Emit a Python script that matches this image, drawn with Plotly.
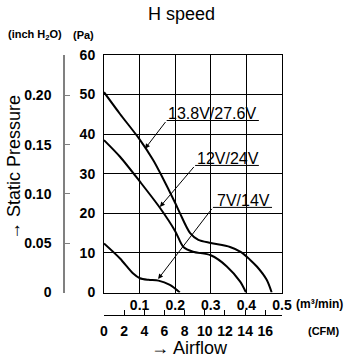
import plotly.graph_objects as go

# ---- data (Pa vs m3/min) ----
flow_138 = [0, 0.045, 0.10, 0.138, 0.159, 0.20, 0.2135, 0.242, 0.265, 0.30, 0.354, 0.385, 0.41, 0.43, 0.457, 0.471]
pres_138 = [50.6, 45.1, 38.7, 33.5, 30.0, 22.6, 20.0, 15.0, 13.3, 12.5, 11.5, 10.2, 8.3, 6.5, 3.2, 0]
flow_12 = [0, 0.045, 0.101, 0.157, 0.20, 0.223, 0.25, 0.30, 0.345, 0.382, 0.399]
pres_12 = [38.5, 34.3, 28.0, 21.4, 15.5, 11.5, 10.3, 9.4, 6.6, 2.8, 0]
flow_7 = [0, 0.045, 0.082, 0.101, 0.125, 0.153, 0.185, 0.213]
pres_7 = [12.4, 8.6, 4.8, 3.6, 3.2, 3.0, 1.9, 0]

series_names = ["13.8V/27.6V", "12V/24V", "7V/14V"]
label_x = [0.303, 0.349, 0.392]
label_y = [45.3, 33.8, 23.3]
underline_x0 = [0.176, 0.256, 0.306]
underline_x1 = [0.435, 0.435, 0.472]
underline_y = [43.45, 32.1, 21.5]
pointer_x = [0.115, 0.157, 0.152]
pointer_y = [36.3, 21.6, 3.4]

pa_ticks = [0, 10, 20, 30, 40, 50, 60]
inch_ticks = [0, 0.05, 0.10, 0.15, 0.20]
inch_labels = ["0", "0.05", "0.10", "0.15", "0.20"]
m3_ticks = [0.1, 0.2, 0.3, 0.4, 0.5]
m3_labels = ["0.1", "0.2", "0.3", "0.4", "0.5"]
cfm_ticks = [0, 2, 4, 6, 8, 10, 12, 14, 16]

PA_PER_INCH = 249.089
CFM_PER_M3 = 35.3147

SANS = "Liberation Sans, Arial, sans-serif"
tick_font = dict(family=SANS, size=14, color="black", weight="bold")

W, H = 352, 359
L, R, T, B = 64, 70, 55, 44
pw, ph = W - L - R, H - T - B
x0_dom = (104 - L) / pw
y0_dom = (315 - 292.5) / ph


def px(xp):
    return (xp - L) / pw


def py(yp):
    return (H - B - yp) / ph


fig = go.Figure()
for fx, fy in [(flow_138, pres_138), (flow_12, pres_12), (flow_7, pres_7)]:
    fig.add_trace(go.Scatter(x=fx, y=fy, mode="lines",
                             line=dict(color="black", width=2, shape="spline", smoothing=0.8),
                             hoverinfo="skip", showlegend=False))
# invisible traces to activate secondary axes
fig.add_trace(go.Scatter(x=[0], y=[0], xaxis="x2", yaxis="y", mode="markers",
                         marker=dict(opacity=0), showlegend=False, hoverinfo="skip"))
fig.add_trace(go.Scatter(x=[0], y=[0], xaxis="x", yaxis="y2", mode="markers",
                         marker=dict(opacity=0), showlegend=False, hoverinfo="skip"))

for i, name in enumerate(series_names):
    fig.add_annotation(x=label_x[i], y=label_y[i], text=name, showarrow=False,
                       xanchor="center", yanchor="middle",
                       font=dict(family=SANS, size=16, color="black"))
    fig.add_shape(type="line", x0=underline_x0[i], x1=underline_x1[i],
                  y0=underline_y[i], y1=underline_y[i], line=dict(color="black", width=1))
    fig.add_annotation(x=pointer_x[i], y=pointer_y[i], ax=underline_x0[i], ay=underline_y[i],
                       axref="x", ayref="y", xref="x", yref="y", text="", showarrow=True,
                       arrowhead=2, arrowsize=1, arrowwidth=1, arrowcolor="black", standoff=0)

fig.update_layout(
    width=W, height=H, margin=dict(l=L, r=R, t=T, b=B),
    paper_bgcolor="white", plot_bgcolor="white",
    xaxis=dict(domain=[x0_dom, 1], range=[0, 0.5], tickvals=m3_ticks, ticktext=m3_labels,
               showgrid=True, gridcolor="black", gridwidth=1,
               showline=True, linecolor="black", linewidth=1, mirror=True,
               ticks="", tickfont=tick_font, zeroline=False, anchor="y",
               ticklabelstandoff=0),
    xaxis2=dict(domain=[x0_dom, 1], range=[0, 0.5 * CFM_PER_M3], tickvals=cfm_ticks,
                anchor="free", position=0, overlaying="x", side="bottom",
                showline=True, linecolor="black", linewidth=1, tickangle=0,
                ticks="inside", ticklen=5, tickcolor="black", showgrid=False,
                zeroline=False, tickfont=tick_font, ticklabelstandoff=3),
    yaxis=dict(domain=[y0_dom, 1], range=[0, 60], tickvals=pa_ticks,
               showgrid=True, gridcolor="black", gridwidth=1,
               showline=True, linecolor="black", linewidth=1, mirror=True,
               ticks="", tickfont=tick_font, zeroline=False, anchor="x",
               ticklabelstandoff=5),
    yaxis2=dict(domain=[y0_dom, 1], range=[0, 60 / PA_PER_INCH], tickvals=inch_ticks,
                ticktext=inch_labels, anchor="free", position=0, overlaying="y", side="left",
                showline=True, linecolor="#808080", linewidth=1.5,
                ticks="inside", ticklen=5, tickcolor="#808080", showgrid=False,
                zeroline=False, tickfont=tick_font, ticklabelstandoff=9),
)


# free text
def note(xp, yp, text, size, bold=False, angle=0):
    f = dict(family=SANS, size=size, color="black")
    if bold:
        f["weight"] = "bold"
    fig.add_annotation(x=px(xp), y=py(yp), xref="paper", yref="paper", text=text,
                       showarrow=False, xanchor="center", yanchor="middle",
                       textangle=angle, font=f)


note(181, 14, "H speed", 18)
note(35, 35, "(inch H<sub>2</sub>O)", 11, bold=True)
note(83, 35, "(Pa)", 11, bold=True)
note(319, 304, "(m³/min)", 12, bold=True)
note(323, 331, "(CFM)", 11, bold=True)
note(189, 348, "→ Airflow", 18)
note(14, 168, "→ Static Pressure", 18, angle=-90)

fig.write_html("out.html")
